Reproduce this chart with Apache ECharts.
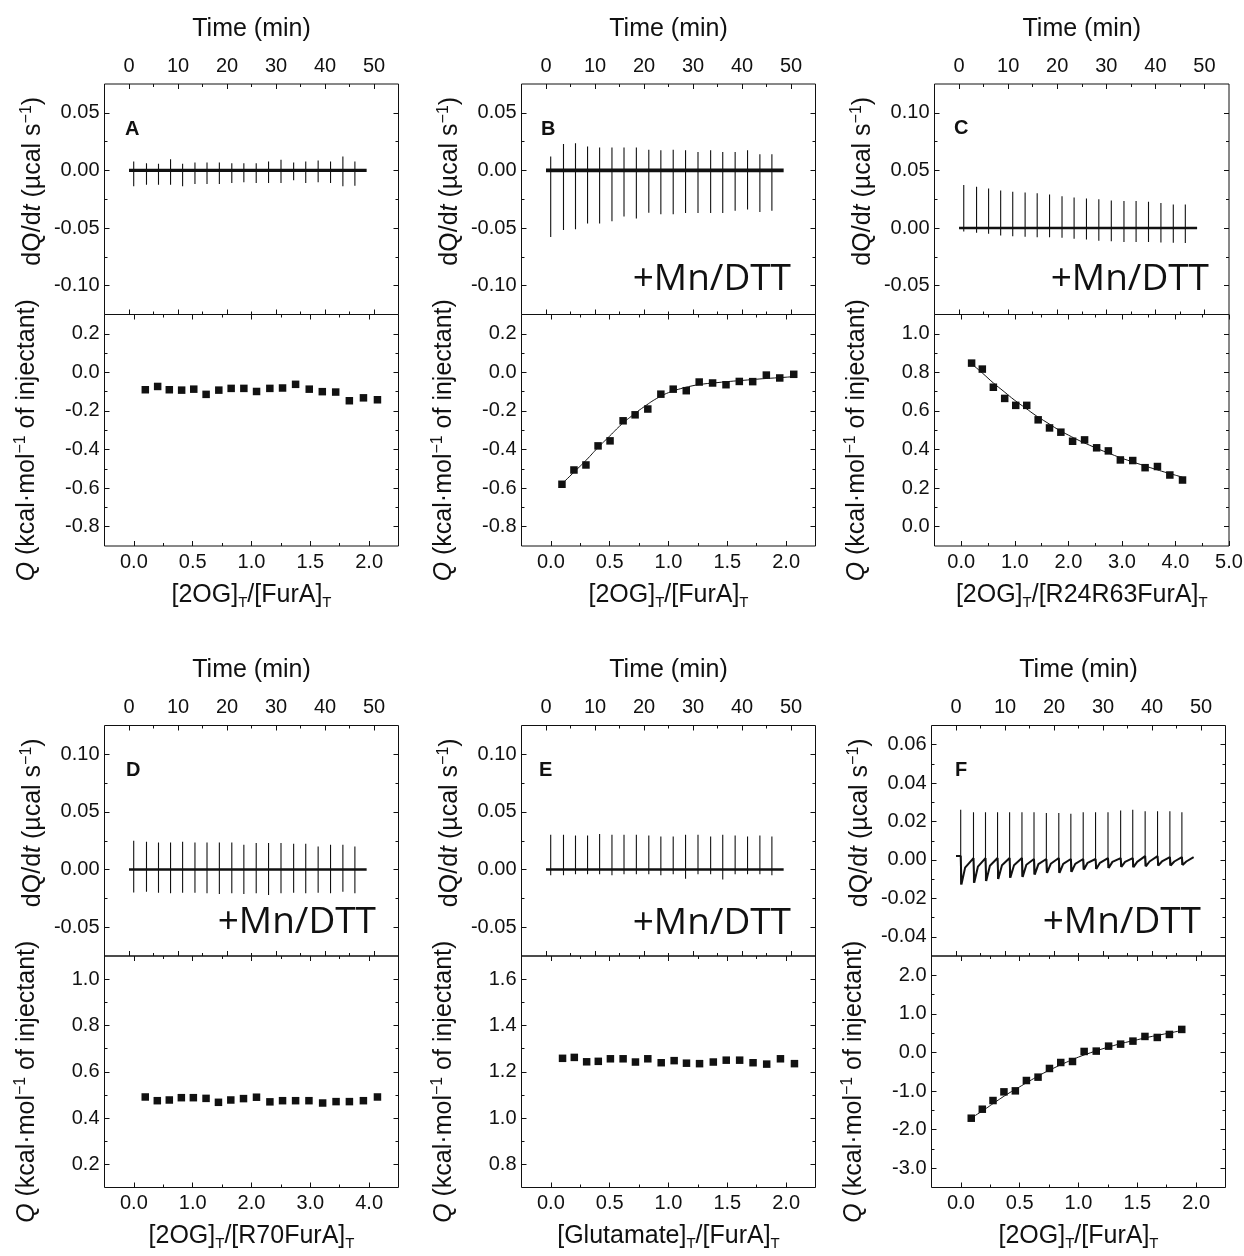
<!DOCTYPE html>
<html><head><meta charset="utf-8">
<script src="https://cdn.jsdelivr.net/npm/echarts@6/dist/echarts.min.js"></script>
<style>html,body{margin:0;padding:0;background:#fff}#c{width:1244px;height:1256px}</style>
</head><body><div id="c"></div>
<script>
// ================= DATA =================
// injection times (min), shared schedule
const injectionTimes = [0.96,3.57,6.02,8.48,10.94,13.46,15.92,18.44,20.98,23.44,25.96,28.48,31.02,33.6,36.07,38.6,41.13,43.65,46.1];
const traceStart = 0, traceEnd = 48.5;

// thermogram spike extremes (µcal/s)
const aSpikeUp   = [0.0078,0.0063,0.0057,0.0098,0.0057,0.0069,0.0069,0.0069,0.0063,0.0063,0.0063,0.0078,0.0092,0.0069,0.0078,0.0086,0.0078,0.0121,0.0078];
const aSpikeDown = [-0.0138,-0.0124,-0.0124,-0.0124,-0.0138,-0.0118,-0.0118,-0.0118,-0.0109,-0.0103,-0.0109,-0.0109,-0.0109,-0.0086,-0.0109,-0.0103,-0.0109,-0.0138,-0.0132];
const bSpikeUp   = [0.012,0.023,0.0236,0.0207,0.0198,0.0198,0.0198,0.0198,0.018,0.0175,0.018,0.0175,0.016,0.0175,0.016,0.016,0.0175,0.014,0.014];
const bSpikeDown = [-0.0578,-0.0517,-0.051,-0.046,-0.046,-0.044,-0.040,-0.0417,-0.0368,-0.038,-0.038,-0.037,-0.037,-0.037,-0.037,-0.035,-0.034,-0.036,-0.035];
const cSpikeUp   = [0.0373,0.0358,0.0344,0.0327,0.0315,0.0309,0.0301,0.0292,0.0277,0.0266,0.0257,0.0249,0.024,0.0234,0.0234,0.0228,0.0217,0.0205,0.0205];
const cSpikeDown = [-0.003,-0.004,-0.005,-0.0064,-0.007,-0.0075,-0.008,-0.008,-0.0085,-0.0092,-0.010,-0.011,-0.0115,-0.012,-0.012,-0.012,-0.0125,-0.0127,-0.013];
const dSpikeUp   = [0.025,0.0241,0.0235,0.0235,0.0241,0.0235,0.0235,0.0235,0.0235,0.0215,0.023,0.023,0.023,0.0224,0.0224,0.0201,0.0215,0.0215,0.0201];
const dSpikeDown = [-0.0198,-0.0192,-0.0201,-0.0206,-0.0201,-0.0201,-0.0206,-0.0212,-0.0206,-0.0212,-0.0206,-0.0221,-0.0206,-0.0201,-0.0206,-0.0201,-0.0206,-0.0192,-0.0206];
const eSpikeUp   = [0.0303,0.0303,0.0295,0.0295,0.0309,0.0303,0.0303,0.0303,0.0295,0.0286,0.0286,0.0303,0.0303,0.0286,0.0303,0.0295,0.0286,0.0295,0.0286];
const eSpikeDown = [-0.005,-0.005,-0.004,-0.004,-0.004,-0.005,-0.004,-0.004,-0.004,-0.005,-0.004,-0.008,-0.004,-0.004,-0.0087,-0.004,-0.004,-0.004,-0.005];
const fSpikeUp   = [0.0261,0.0249,0.0249,0.0249,0.0249,0.0249,0.0249,0.0244,0.0244,0.024,0.0249,0.0249,0.0249,0.0258,0.0261,0.0253,0.0253,0.0253,0.0249];
const fDip       = [-0.0128,-0.0119,-0.0109,-0.0099,-0.0093,-0.0088,-0.0076,-0.0067,-0.0067,-0.0062,-0.005,-0.0047,-0.0042,-0.0036,-0.0038,-0.0033,-0.0029,-0.0029,-0.0026];
const fPre       = [0.002,0.001,0.001,0.001,0.001,0.001,0.0005,0.0005,0.001,0.0005,0.0005,0.0005,0.001,0.001,0.001,0.002,0.002,0.0015,0.0015];
const fMid       = [-0.004,-0.0035,-0.003,-0.0028,-0.0028,-0.0025,-0.0022,-0.002,-0.002,-0.002,-0.0015,-0.0015,-0.001,-0.001,-0.001,-0.0008,-0.0008,-0.0008,-0.0008];

// integrated heats (kcal/mol of injectant) vs molar ratio
const aRatio = [0.097,0.202,0.301,0.406,0.509,0.614,0.722,0.827,0.935,1.043,1.156,1.264,1.375,1.491,1.602,1.716,1.832,1.952,2.071];
const aHeat  = [-0.090,-0.073,-0.090,-0.092,-0.087,-0.114,-0.092,-0.083,-0.083,-0.099,-0.083,-0.081,-0.062,-0.087,-0.100,-0.102,-0.147,-0.132,-0.142];
const bRatio = [0.094,0.196,0.298,0.401,0.503,0.614,0.716,0.824,0.935,1.040,1.151,1.261,1.375,1.489,1.602,1.716,1.832,1.946,2.065];
const bHeat  = [-0.580,-0.506,-0.480,-0.381,-0.355,-0.251,-0.220,-0.190,-0.113,-0.087,-0.095,-0.050,-0.055,-0.064,-0.047,-0.048,-0.014,-0.029,-0.010];
const bFit   = [[0.094,-0.578],[0.2,-0.515],[0.3,-0.455],[0.4,-0.39],[0.5,-0.33],[0.6,-0.27],[0.7,-0.22],[0.8,-0.175],[0.9,-0.135],[1.0,-0.105],[1.1,-0.085],[1.2,-0.07],[1.3,-0.06],[1.4,-0.054],[1.5,-0.048],[1.6,-0.043],[1.7,-0.038],[1.8,-0.033],[1.9,-0.029],[2.0,-0.025],[2.065,-0.022]];
const cRatio = [0.193,0.393,0.599,0.811,1.017,1.223,1.436,1.648,1.860,2.079,2.303,2.528,2.747,2.971,3.202,3.433,3.664,3.895,4.132];
const cHeat  = [0.848,0.817,0.723,0.665,0.629,0.629,0.554,0.512,0.490,0.443,0.450,0.409,0.393,0.346,0.343,0.306,0.312,0.268,0.242];
const cFit   = [[0.19,0.845],[0.4,0.795],[0.6,0.745],[0.8,0.70],[1.0,0.655],[1.2,0.615],[1.4,0.575],[1.6,0.54],[1.8,0.505],[2.0,0.475],[2.2,0.447],[2.4,0.422],[2.6,0.398],[2.8,0.376],[3.0,0.355],[3.2,0.336],[3.4,0.318],[3.6,0.30],[3.8,0.283],[4.0,0.267],[4.13,0.257]];
const dRatio = [0.193,0.398,0.602,0.807,1.011,1.227,1.438,1.648,1.864,2.085,2.313,2.528,2.750,2.977,3.210,3.438,3.665,3.903,4.142];
const dHeat  = [0.491,0.475,0.478,0.488,0.488,0.485,0.468,0.478,0.484,0.490,0.470,0.475,0.475,0.475,0.465,0.471,0.471,0.475,0.491];
const eRatio = [0.099,0.199,0.304,0.403,0.506,0.614,0.719,0.824,0.938,1.048,1.153,1.264,1.381,1.491,1.605,1.719,1.835,1.952,2.071];
const eHeat  = [1.258,1.262,1.243,1.245,1.256,1.256,1.242,1.256,1.239,1.248,1.237,1.235,1.242,1.250,1.250,1.239,1.233,1.256,1.235];
const fRatio = [0.088,0.182,0.273,0.366,0.463,0.557,0.656,0.753,0.849,0.949,1.048,1.151,1.256,1.358,1.463,1.565,1.670,1.773,1.878];
const fHeat  = [-1.704,-1.471,-1.246,-1.021,-0.995,-0.727,-0.640,-0.415,-0.260,-0.234,0.026,0.035,0.164,0.216,0.294,0.415,0.389,0.467,0.597];
const fFit   = [[0.088,-1.70],[0.2,-1.48],[0.3,-1.27],[0.4,-1.07],[0.5,-0.89],[0.6,-0.71],[0.7,-0.54],[0.8,-0.39],[0.9,-0.25],[1.0,-0.12],[1.1,-0.01],[1.2,0.09],[1.3,0.18],[1.4,0.26],[1.5,0.33],[1.6,0.40],[1.7,0.46],[1.8,0.52],[1.878,0.57]];

// tick values
const timeTicks = [0,10,20,30,40,50], timeMinor = [5,15,25,35,45];
const dqTicksAB = [-0.10,-0.05,0,0.05], dqMinorAB = [-0.075,-0.025,0.025];
const dqTicksCDE = [-0.05,0,0.05,0.10], dqMinorCDE = [-0.025,0.025,0.075];
const dqTicksF = [-0.04,-0.02,0,0.02,0.04,0.06], dqMinorF = [-0.03,-0.01,0.01,0.03,0.05];
const qTicksAB = [-0.8,-0.6,-0.4,-0.2,0,0.2], qMinorAB = [-0.7,-0.5,-0.3,-0.1,0.1];
const qTicksC = [0,0.2,0.4,0.6,0.8,1.0], qMinorC = [0.1,0.3,0.5,0.7,0.9];
const qTicksD = [0.2,0.4,0.6,0.8,1.0], qMinorD = [0.3,0.5,0.7,0.9];
const qTicksE = [0.8,1.0,1.2,1.4,1.6], qMinorE = [0.9,1.1,1.3,1.5];
const qTicksF = [-3,-2,-1,0,1,2], qMinorF = [-2.5,-1.5,-0.5,0.5,1.5];
const ratioTicks2 = [0,0.5,1,1.5,2], ratioMinor2 = [0.25,0.75,1.25,1.75];
const ratioTicks5 = [0,1,2,3,4,5], ratioMinor5 = [0.5,1.5,2.5,3.5,4.5];
const ratioTicks4 = [0,1,2,3,4], ratioMinor4 = [0.5,1.5,2.5,3.5];

// texts
const panelLetters = ['A','B','C','D','E','F'];
const conditionLabel = '+Mn/DTT';
const xTitles = ['[2OG]{sub|T}/[FurA]{sub|T}','[2OG]{sub|T}/[FurA]{sub|T}','[2OG]{sub|T}/[R24R63FurA]{sub|T}',
                 '[2OG]{sub|T}/[R70FurA]{sub|T}','[Glutamate]{sub|T}/[FurA]{sub|T}','[2OG]{sub|T}/[FurA]{sub|T}'];
const timeTitle = 'Time (min)';
const dqTitle = 'dQ/d{it|t} (µcal s{sup|−1})';
const qTitle = '{it|Q} (kcal·mol{sup|−1} of injectant)';

// ================= LAYOUT / STYLE =================
const FONT = "'Liberation Sans', Arial, Helvetica, sans-serif";
const INK = '#111111';
const layout = [
  {left:104.5, width:294,   top:84},
  {left:521.5, width:294,   top:84},
  {left:934.5, width:294.5, top:84},
  {left:104.5, width:294,   top:725.5},
  {left:521.5, width:294,   top:725.5},
  {left:931.5, width:294,   top:725.5}
];
const TOP_H = 230.5, BOT_H = 231.5;
const letterPos = [[125,129],[541,129],[954,128],[126,770],[539,770.5],[955,770]];
const condPos = [null,[791,279],[1209,279],[376,922.5],[791,923.5],[1201,922]];

const panels = [
  {up:aSpikeUp, down:aSpikeDown, band:3.2, topY:[-0.125,0.075,dqTicksAB,dqMinorAB,2],
   botX:[-0.25,2.25,ratioTicks2,ratioMinor2,1], botY:[-0.9,0.3,qTicksAB,qMinorAB,1], x:aRatio, y:aHeat, fit:null},
  {up:bSpikeUp, down:bSpikeDown, band:3.8, topY:[-0.125,0.075,dqTicksAB,dqMinorAB,2],
   botX:[-0.25,2.25,ratioTicks2,ratioMinor2,1], botY:[-0.9,0.3,qTicksAB,qMinorAB,1], x:bRatio, y:bHeat, fit:bFit},
  {up:cSpikeUp, down:cSpikeDown, band:2.6, topY:[-0.075,0.125,dqTicksCDE,dqMinorCDE,2],
   botX:[-0.5,5.0,ratioTicks5,ratioMinor5,1], botY:[-0.1,1.1,qTicksC,qMinorC,1], x:cRatio, y:cHeat, fit:cFit},
  {up:dSpikeUp, down:dSpikeDown, band:2.6, topY:[-0.075,0.125,dqTicksCDE,dqMinorCDE,2],
   botX:[-0.5,4.5,ratioTicks4,ratioMinor4,1], botY:[0.1,1.1,qTicksD,qMinorD,1], x:dRatio, y:dHeat, fit:null},
  {up:eSpikeUp, down:eSpikeDown, band:2.6, topY:[-0.075,0.125,dqTicksCDE,dqMinorCDE,2],
   botX:[-0.25,2.25,ratioTicks2,ratioMinor2,1], botY:[0.7,1.7,qTicksE,qMinorE,1], x:eRatio, y:eHeat, fit:null},
  {up:fSpikeUp, down:fDip, band:2.0, topY:[-0.05,0.07,dqTicksF,dqMinorF,2],
   botX:[-0.25,2.25,ratioTicks2,ratioMinor2,1], botY:[-3.5,2.5,qTicksF,qMinorF,1], x:fRatio, y:fHeat, fit:fFit, dips:true}
];

const rich = {
  it:  {fontStyle:'italic', fontSize:25, fontFamily:FONT, color:INK, lineHeight:30},
  sup: {fontSize:16, fontFamily:FONT, color:INK, verticalAlign:'top', lineHeight:16},
  sub: {fontSize:15, fontFamily:FONT, color:INK, verticalAlign:'bottom', lineHeight:8}
};
function nameStyle(pad){ return {fontSize:25, fontFamily:FONT, color:INK, lineHeight:30, padding:pad||0, rich:rich}; }

const option = {animation:false, backgroundColor:'#fff', textStyle:{fontFamily:FONT},
  grid:[], xAxis:[], yAxis:[], series:[], graphic:[]};

function addAxes(list, gi, pos, mirror, spec, margin, extra){
  const [min,max,major,minor,dec] = spec;
  const base = {type:'value', gridIndex:gi, min:min, max:max, splitLine:{show:false},
                axisLine:{show:false, onZero:false}};
  const tick = (vals,len)=>({show:true, inside:true, length:len, customValues:vals, lineStyle:{color:INK, width:1}});
  const idx = list.length;
  list.push(Object.assign({}, base, {position:pos, axisTick:tick(major,5),
    axisLabel:{show:true, customValues:major, formatter:v=>Number(v).toFixed(dec), fontSize:20, fontFamily:FONT, color:INK, margin:margin}}, extra||{}));
  list.push(Object.assign({}, base, {position:pos, axisTick:tick(minor,3), axisLabel:{show:false}}));
  list.push(Object.assign({}, base, {position:mirror, axisTick:tick(major,5), axisLabel:{show:false}}));
  list.push(Object.assign({}, base, {position:mirror, axisTick:tick(minor,3), axisLabel:{show:false}}));
  return idx;
}

panels.forEach((p,k)=>{
  const L = layout[k];
  const gT = option.grid.length, gB = gT+1;
  const gbase = {show:true, borderColor:INK, borderWidth:1, backgroundColor:'transparent', containLabel:false, outerBoundsMode:'none'};
  option.grid.push(Object.assign({left:L.left, top:L.top, width:L.width, height:TOP_H}, gbase));
  option.grid.push(Object.assign({left:L.left, top:L.top+TOP_H, width:L.width, height:BOT_H}, gbase));

  const xT = addAxes(option.xAxis, gT, 'top', 'bottom', [-5,55,timeTicks,timeMinor,0], 8,
    {name:timeTitle, nameLocation:'middle', nameGap:40, nameTextStyle:nameStyle()});
  const yT = addAxes(option.yAxis, gT, 'left', 'right', p.topY, 5,
    {name:dqTitle, nameLocation:'middle', nameGap:56, nameRotate:90, nameTextStyle:nameStyle([0,0,0,36])});
  const xB = addAxes(option.xAxis, gB, 'bottom', 'top', p.botX, 6,
    {name:xTitles[k], nameLocation:'middle', nameGap:34, nameTextStyle:nameStyle()});
  const yB = addAxes(option.yAxis, gB, 'left', 'right', p.botY, 5,
    {name:qTitle, nameLocation:'middle', nameGap:62, nameRotate:90, nameTextStyle:nameStyle([0,20,0,0])});

  // thermogram: baseline band + injection spikes
  let band;
  if (p.dips) {
    band = [[traceStart, fPre[0]]];
    injectionTimes.forEach((t,i)=>{ band.push([t, fPre[i]], [t+0.15, fDip[i]], [t+0.9, fMid[i]]); });
    band.push([traceEnd, fPre[fPre.length-1]]);
  } else {
    band = [[traceStart,0],[traceEnd,0]];
  }
  option.series.push({type:'line', xAxisIndex:xT, yAxisIndex:yT, data:band, showSymbol:false, symbol:'none',
    lineStyle:{color:INK, width:p.band}, silent:true});
  const spikes = [];
  injectionTimes.forEach((t,i)=>{ spikes.push([t, p.up[i]], [t, p.down[i]], [t, '-']); });
  option.series.push({type:'line', xAxisIndex:xT, yAxisIndex:yT, data:spikes, showSymbol:false, symbol:'none',
    connectNulls:false, lineStyle:{color:INK, width:1.1}, silent:true});

  // isotherm
  if (p.fit) option.series.push({type:'line', xAxisIndex:xB, yAxisIndex:yB, data:p.fit, smooth:true, showSymbol:false,
    symbol:'none', lineStyle:{color:INK, width:1}, silent:true});
  option.series.push({type:'scatter', xAxisIndex:xB, yAxisIndex:yB, data:p.x.map((v,i)=>[v,p.y[i]]),
    symbol:'rect', symbolSize:7.5, itemStyle:{color:INK, opacity:1}, z:5, silent:true});

  // annotations
  option.graphic.push({type:'text', x:letterPos[k][0], y:letterPos[k][1], silent:true,
    style:{text:panelLetters[k], fill:INK, fontSize:20, fontWeight:'bold', fontFamily:FONT,
           align:'left', textAlign:'left', verticalAlign:'middle', textVerticalAlign:'middle'}});
  if (condPos[k]) option.graphic.push({type:'text', x:condPos[k][0], y:condPos[k][1], silent:true,
    style:{text:conditionLabel, fill:INK, fontSize:37, fontFamily:"'Open Sans','Noto Sans',sans-serif",
           align:'right', textAlign:'right', verticalAlign:'middle', textVerticalAlign:'middle'}});
});

const chart = echarts.init(document.getElementById('c'), null, {renderer:'canvas'});
chart.setOption(option);
</script></body></html>
